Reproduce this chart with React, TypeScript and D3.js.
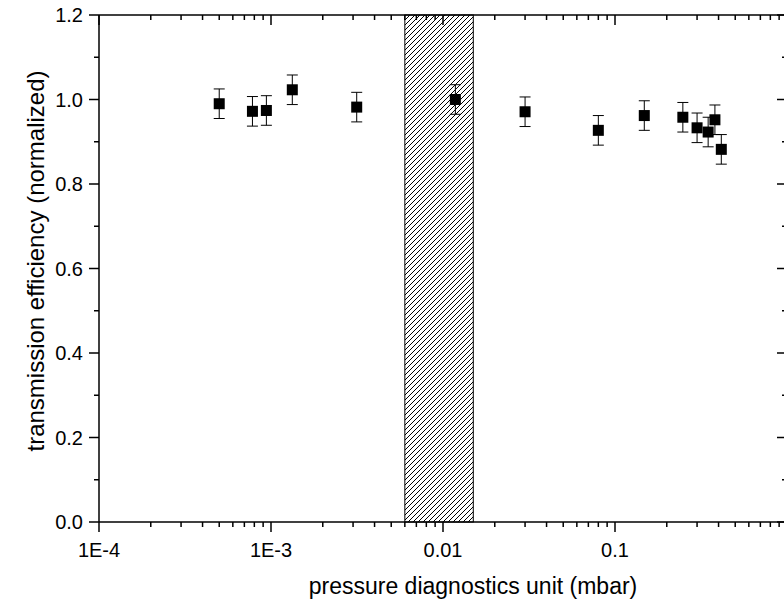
import React from "react";
import * as d3 from "d3";

const pressure = [5.0e-4, 7.8e-4, 9.4e-4, 1.33e-3, 3.15e-3, 0.0118, 0.03, 0.08, 0.148, 0.248, 0.3, 0.348, 0.381, 0.415];
const efficiency = [0.99, 0.972, 0.974, 1.023, 0.982, 1.0, 0.971, 0.927, 0.962, 0.958, 0.933, 0.923, 0.952, 0.882];
const errors = [0.035, 0.035, 0.035, 0.035, 0.035, 0.035, 0.035, 0.035, 0.035, 0.035, 0.035, 0.035, 0.035, 0.035];
const hatchRange = [0.006, 0.015];
const xMajor = [1e-4, 1e-3, 1e-2, 1e-1, 1];
const xMajorLabels = ["1E-4", "1E-3", "0.01", "0.1", ""];
const yMajor = [0, 0.2, 0.4, 0.6, 0.8, 1.0, 1.2];
const yMinor = [0.1, 0.3, 0.5, 0.7, 0.9, 1.1];

const W = 784, H = 608;
const L = 99, R = 787, T = 15, B = 522;
const FONT = "'Liberation Sans', Arial, sans-serif";

export default function App() {
  const x = d3.scaleLog().domain([1e-4, 1]).range([L, R]);
  const y = d3.scaleLinear().domain([0, 1.2]).range([B, T]);
  const xMinor: number[] = [];
  for (let e = -4; e < 0; e++) for (let m = 2; m <= 9; m++) xMinor.push(m * Math.pow(10, e));
  const sq = 11;
  const cap = 5.5;
  return (
    <svg width={W} height={H} style={{ position: "absolute", left: 0, top: 0, background: "#fff" }}>
      <defs>
        <pattern id="hatch" patternUnits="userSpaceOnUse" width={5} height={5}>
          <path d="M0,5 L5,0 M-1,1 L1,-1 M4,6 L6,4" stroke="#000" strokeWidth={1} />
        </pattern>
      </defs>
      <rect x={x(hatchRange[0])} y={T} width={x(hatchRange[1]) - x(hatchRange[0])} height={B - T}
        fill="url(#hatch)" stroke="#000" strokeWidth={1} />
      {pressure.map((p, i) => {
        const cx = x(p), cy = y(efficiency[i]);
        const y1 = y(efficiency[i] + errors[i]), y2 = y(efficiency[i] - errors[i]);
        return (
          <g key={i}>
            <line x1={cx} x2={cx} y1={y1} y2={y2} stroke="#000" strokeWidth={1} />
            <line x1={cx - cap} x2={cx + cap} y1={y1} y2={y1} stroke="#000" strokeWidth={1} />
            <line x1={cx - cap} x2={cx + cap} y1={y2} y2={y2} stroke="#000" strokeWidth={1} />
            <rect x={cx - sq / 2} y={cy - sq / 2} width={sq} height={sq} fill="#000" />
          </g>
        );
      })}
      <g stroke="#000" strokeWidth={1.5} fill="none">
        <line x1={L} x2={R} y1={B} y2={B} />
        <line x1={L} x2={R} y1={T} y2={T} />
        <line x1={L} x2={L} y1={T} y2={B} />
        <line x1={R} x2={R} y1={T} y2={B} />
        {xMajor.map((v, i) => (
          <g key={"xm" + i}>
            <line x1={x(v)} x2={x(v)} y1={B} y2={B + 10} />
            <line x1={x(v)} x2={x(v)} y1={T} y2={T + 10} />
          </g>
        ))}
        {xMinor.map((v, i) => (
          <g key={"xn" + i}>
            <line x1={x(v)} x2={x(v)} y1={B} y2={B + 5} />
            <line x1={x(v)} x2={x(v)} y1={T} y2={T + 5} />
          </g>
        ))}
        {yMajor.map((v, i) => (
          <g key={"ym" + i}>
            <line x1={L - 10} x2={L} y1={y(v)} y2={y(v)} />
            <line x1={R - 10} x2={R} y1={y(v)} y2={y(v)} />
          </g>
        ))}
        {yMinor.map((v, i) => (
          <g key={"yn" + i}>
            <line x1={L - 5} x2={L} y1={y(v)} y2={y(v)} />
            <line x1={R - 5} x2={R} y1={y(v)} y2={y(v)} />
          </g>
        ))}
      </g>
      <g fontFamily={FONT} fontSize={20} fill="#000">
        {xMajor.map((v, i) => (
          <text key={"xl" + i} x={x(v)} y={557} textAnchor="middle">{xMajorLabels[i]}</text>
        ))}
        {yMajor.map((v, i) => (
          <text key={"yl" + i} x={83} y={y(v) + 7} textAnchor="end">{v.toFixed(1)}</text>
        ))}
      </g>
      <text x={(L + R) / 2 + 30} y={594} textAnchor="middle" fontFamily={FONT} fontSize={23}>
        pressure diagnostics unit (mbar)
      </text>
      <text transform={`translate(44,261) rotate(-90)`} textAnchor="middle" fontFamily={FONT} fontSize={24}>
        transmission efficiency (normalized)
      </text>
    </svg>
  );
}
